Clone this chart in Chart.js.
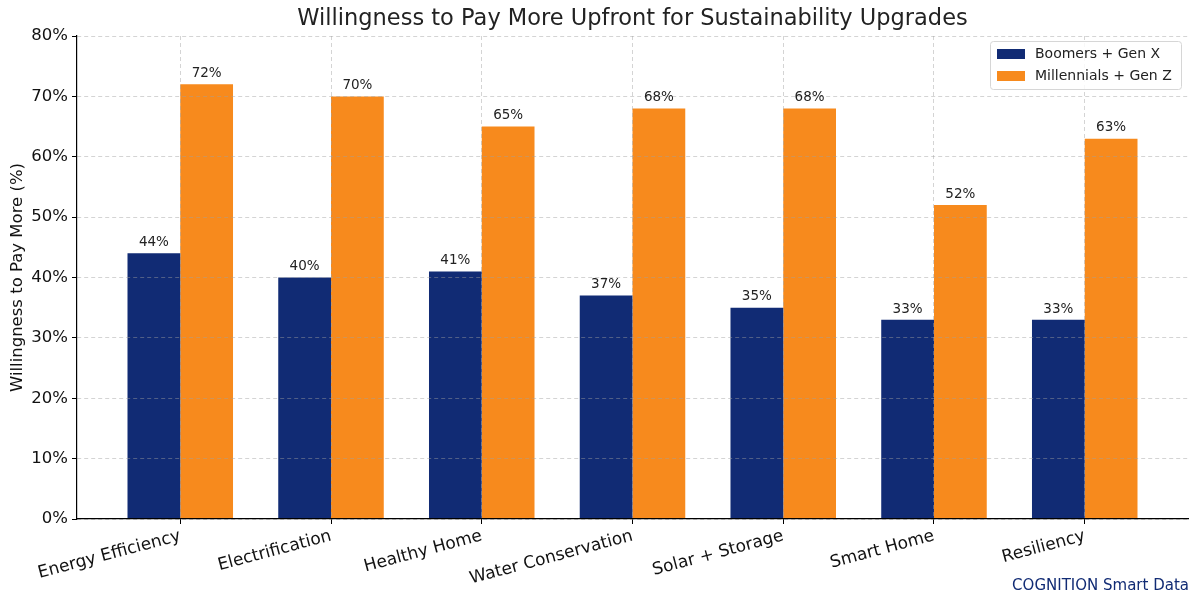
<!DOCTYPE html>
<html>
<head>
<meta charset="utf-8">
<script src="https://cdn.jsdelivr.net/npm/chart.js@4.4.0/dist/chart.umd.min.js"></script>
<style>
  html, body { margin: 0; padding: 0; background: #fff; }
  #wrap { width: 1200px; height: 606px; }
</style>
</head>
<body>
<div id="wrap"><canvas id="chart" width="1200" height="606"></canvas></div>
<script>
const categories = ['Energy Efficiency', 'Electrification', 'Healthy Home', 'Water Conservation', 'Solar + Storage', 'Smart Home', 'Resiliency'];
const boomers = [44, 40, 41, 37, 35, 33, 33];
const millennials = [72, 70, 65, 68, 68, 52, 63];
const seriesNames = ['Boomers + Gen X', 'Millennials + Gen Z'];
const yTicks = [0, 10, 20, 30, 40, 50, 60, 70, 80];

const NAVY = '#112b74';
const ORANGE = '#f78a1d';
const FONT = "'DejaVu Sans', sans-serif";

// titre, etiquettes, legende, signature
const extras = {
  id: 'extras',
  afterDraw(chart) {
    const ctx = chart.ctx;
    const area = chart.chartArea;
    ctx.save();
    // valeurs au-dessus des barres
    ctx.font = '13.5px ' + FONT;
    ctx.fillStyle = '#222';
    ctx.textAlign = 'center';
    ctx.textBaseline = 'bottom';
    chart.data.datasets.forEach((ds, di) => {
      chart.getDatasetMeta(di).data.forEach((bar, i) => {
        ctx.fillText(ds.data[i].y + '%', bar.x, bar.y - 4);
      });
    });
    // titre
    ctx.font = '22.5px ' + FONT;
    ctx.fillStyle = '#222';
    ctx.textBaseline = 'middle';
    ctx.fillText('Willingness to Pay More Upfront for Sustainability Upgrades', (area.left + area.right) / 2, 19);
    // legende
    const lx = 990, ly = 41, lw = 191, lh = 48;
    ctx.fillStyle = 'rgba(255,255,255,0.85)';
    ctx.strokeStyle = '#d6d6d6';
    ctx.lineWidth = 1;
    ctx.beginPath();
    ctx.roundRect(lx + 0.5, ly + 0.5, lw, lh, 3);
    ctx.fill();
    ctx.stroke();
    ctx.font = '14px ' + FONT;
    ctx.textAlign = 'left';
    [NAVY, ORANGE].forEach((c, i) => {
      const y = ly + 13 + i * 22;
      ctx.fillStyle = c;
      ctx.fillRect(lx + 7, y - 5, 28, 10);
      ctx.fillStyle = '#222';
      ctx.fillText(seriesNames[i], lx + 45, y);
    });
    // signature
    ctx.font = '15px ' + FONT;
    ctx.fillStyle = NAVY;
    ctx.textAlign = 'right';
    ctx.fillText('COGNITION Smart Data', 1189, 586);
    ctx.restore();
  }
};

const gridOpts = {
  color: 'rgba(160,160,160,0.45)',
  tickColor: '#000',
  tickBorderDash: [],
  tickLength: 5,
  offset: false,
  z: 1
};

new Chart(document.getElementById('chart'), {
  type: 'bar',
  data: {
    datasets: [
      { label: seriesNames[0], data: boomers.map((v, i) => ({ x: i, y: v })), backgroundColor: NAVY },
      { label: seriesNames[1], data: millennials.map((v, i) => ({ x: i, y: v })), backgroundColor: ORANGE }
    ]
  },
  options: {
    responsive: false,
    animation: false,
    categoryPercentage: 0.7,
    barPercentage: 1.0,
    layout: { padding: { top: 36, right: 12, left: 0, bottom: 0 } },
    plugins: { legend: { display: false }, tooltip: { enabled: false } },
    scales: {
      x: {
        type: 'linear',
        min: -0.685,
        max: 6.685,
        offset: false,
        afterBuildTicks: s => { s.ticks = categories.map((c, i) => ({ value: i })); },
        afterFit: s => { s.height = 87; },
        ticks: {
          autoSkip: false,
          minRotation: 15,
          maxRotation: 15,
          color: '#111',
          font: { family: FONT, size: 17 },
          padding: 2,
          callback: v => categories[v]
        },
        grid: gridOpts,
        border: { display: true, color: '#000', width: 1.2, dash: [4, 3], z: 2 }
      },
      y: {
        min: 0,
        max: 80,
        afterBuildTicks: s => { s.ticks = yTicks.map(v => ({ value: v })); },
        afterFit: s => { s.width = 77; },
        ticks: {
          color: '#111',
          font: { family: FONT, size: 16.5 },
          padding: 4,
          callback: v => v + '%'
        },
        grid: gridOpts,
        border: { display: true, color: '#000', width: 1.2, dash: [4, 3], z: 2 },
        title: {
          display: true,
          text: 'Willingness to Pay More (%)',
          color: '#111',
          font: { family: FONT, size: 16.5 },
          padding: { top: 8, bottom: 0 }
        }
      }
    }
  },
  plugins: [extras]
});
</script>
</body>
</html>
